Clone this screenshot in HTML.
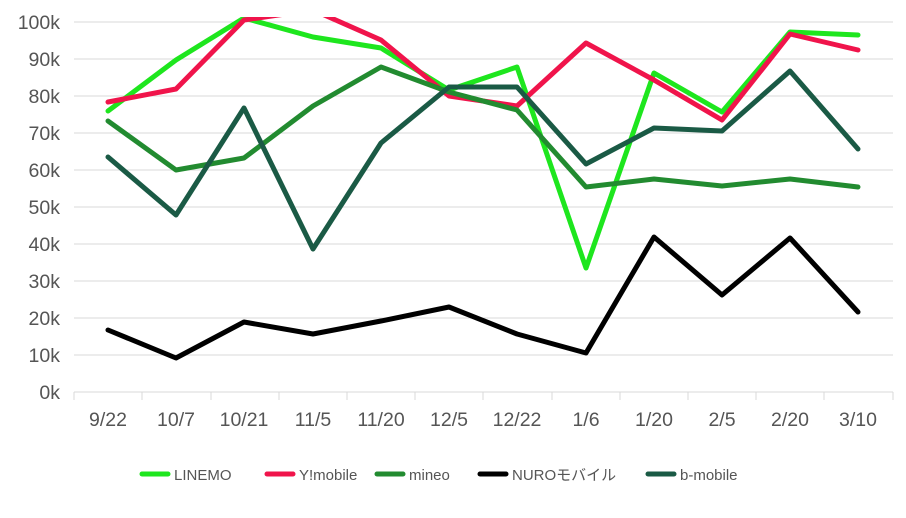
<!DOCTYPE html>
<html><head><meta charset="utf-8"><style>
body{margin:0;background:#fff;width:906px;height:513px;overflow:hidden}
text{font-family:"Segoe UI","Liberation Sans","Noto Sans CJK JP",sans-serif;fill:#555}
</style></head><body>
<svg width="906" height="513" viewBox="0 0 906 513">
<defs><clipPath id="c"><rect x="0" y="17" width="906" height="400"/></clipPath></defs>
<g stroke="#d9d9d9" stroke-width="1">
<line x1="74" x2="893" y1="22" y2="22"/><line x1="74" x2="893" y1="59" y2="59"/>
<line x1="74" x2="893" y1="96" y2="96"/><line x1="74" x2="893" y1="133" y2="133"/>
<line x1="74" x2="893" y1="170" y2="170"/><line x1="74" x2="893" y1="207" y2="207"/>
<line x1="74" x2="893" y1="244" y2="244"/><line x1="74" x2="893" y1="281" y2="281"/>
<line x1="74" x2="893" y1="318" y2="318"/><line x1="74" x2="893" y1="355" y2="355"/>
<line x1="74" x2="893" y1="392" y2="392"/>
<line x1="74" x2="74" y1="392" y2="400"/><line x1="142" x2="142" y1="392" y2="400"/>
<line x1="211" x2="211" y1="392" y2="400"/><line x1="279" x2="279" y1="392" y2="400"/>
<line x1="347" x2="347" y1="392" y2="400"/><line x1="415" x2="415" y1="392" y2="400"/>
<line x1="483" x2="483" y1="392" y2="400"/><line x1="552" x2="552" y1="392" y2="400"/>
<line x1="620" x2="620" y1="392" y2="400"/><line x1="688" x2="688" y1="392" y2="400"/>
<line x1="756" x2="756" y1="392" y2="400"/><line x1="824" x2="824" y1="392" y2="400"/>
<line x1="893" x2="893" y1="392" y2="400"/>
</g>
<g font-size="19.5" text-anchor="end">
<text x="60" y="29">100k</text><text x="60" y="66">90k</text><text x="60" y="103">80k</text>
<text x="60" y="140">70k</text><text x="60" y="177">60k</text><text x="60" y="214">50k</text>
<text x="60" y="251">40k</text><text x="60" y="288">30k</text><text x="60" y="325">20k</text>
<text x="60" y="362">10k</text><text x="60" y="399">0k</text>
</g>
<g font-size="19.5" text-anchor="middle">
<text x="108" y="426">9/22</text><text x="176" y="426">10/7</text><text x="244" y="426">10/21</text>
<text x="313" y="426">11/5</text><text x="381" y="426">11/20</text><text x="449" y="426">12/5</text>
<text x="517" y="426">12/22</text><text x="586" y="426">1/6</text><text x="654" y="426">1/20</text>
<text x="722" y="426">2/5</text><text x="790" y="426">2/20</text><text x="858" y="426">3/10</text>
</g>
<g fill="none" stroke-width="5" stroke-linejoin="round" stroke-linecap="round" clip-path="url(#c)">
<polyline stroke="#1ee61e" points="108,111 176,60 244,18 313,37 381,48 449,90 517,67 586,268 654,73 722,112 790,32 858,35"/>
<polyline stroke="#f0144b" points="108,102 176,89 244,20 313,10 381,40 449,96 517,106 586,43 654,80 722,120 790,34 858,50"/>
<polyline stroke="#228b30" points="108,121 176,170 244,158 313,106 381,67 449,92 517,110 586,187 654,179 722,186 790,179 858,187"/>
<polyline stroke="#000" points="108,330 176,358 244,322 313,334 381,321 449,307 517,334 586,353 654,237 722,295 790,238 858,312"/>
<polyline stroke="#1a5a45" points="108,157 176,215 244,108 313,249 381,143 449,87 517,87 586,164 654,128 722,131 790,71 858,149"/>
</g>
<g stroke-width="5" stroke-linecap="round">
<line x1="142" x2="168" y1="474" y2="474" stroke="#1ee61e"/>
<line x1="267" x2="293" y1="474" y2="474" stroke="#f0144b"/>
<line x1="377" x2="403" y1="474" y2="474" stroke="#228b30"/>
<line x1="480" x2="506" y1="474" y2="474" stroke="#000"/>
<line x1="648" x2="674" y1="474" y2="474" stroke="#1a5a45"/>
</g>
<g font-size="15">
<text x="174" y="480">LINEMO</text><text x="299" y="480">Y!mobile</text>
<text x="409" y="480">mineo</text><text x="512" y="480">NUROモバイル</text>
<text x="680" y="480">b-mobile</text>
</g>
</svg>
</body></html>
